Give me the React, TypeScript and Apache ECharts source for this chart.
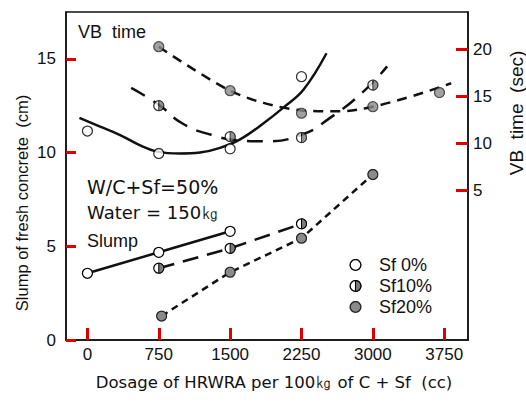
import React, { useEffect, useRef } from "react";
import * as echarts from "echarts";

const xTicks = [0, 750, 1500, 2250, 3000, 3750];
const cmTicks = [0, 5, 10, 15];
const secTicks = [5, 10, 15, 20];

const seriesNames = ["Sf 0%", "Sf10%", "Sf20%"];

// Slump (cm), left axis
const slumpSf0 = [[0, 3.56], [750, 4.68], [1500, 5.8]];
const slumpSf10 = [[750, 3.83], [1500, 4.89], [2250, 6.2]];
const slumpSf20 = [[780, 1.28], [1500, 3.62], [2250, 5.43], [3000, 8.83]];

// VB time (sec), right axis - measured points
const vbSf0 = [[0, 11.3], [750, 8.9], [1500, 9.4], [2250, 17.1]];
const vbSf10 = [[750, 14.0], [1500, 10.7], [2250, 10.6], [3000, 16.2]];
const vbSf20 = [[750, 20.3], [1500, 15.6], [2250, 13.2], [3000, 13.9], [3700, 15.4]];

// VB time fitted curves
const vbCurveSf0 = [[-84, 12.7], [127, 11.8], [338, 10.9], [549, 9.8], [739, 9.1], [971, 8.9], [1183, 9.0], [1394, 9.5], [1605, 10.4], [1848, 12.1], [2059, 13.8], [2270, 15.7], [2513, 19.6]];
const vbCurveSf10 = [[460, 15.9], [750, 14.1], [1000, 12.1], [1300, 10.9], [1600, 10.3], [1850, 10.2], [2250, 10.9], [2550, 12.7], [2900, 15.5], [3150, 18.2]];
const vbCurveSf20 = [[750, 20.3], [1050, 18.3], [1500, 15.6], [1850, 14.3], [2250, 13.5], [2660, 13.4], [3823, 16.4]];

const X_MIN = -225;
const X_MAX = 4000;

const svgUri = (s: string) => "image://data:image/svg+xml;charset=utf-8," + encodeURIComponent(s);
const halfSym = svgUri(
  "<svg xmlns='http://www.w3.org/2000/svg' width='24' height='24' viewBox='0 0 24 24'><circle cx='12' cy='12' r='10' fill='white' stroke='black' stroke-width='2.5'/><path d='M12 2 A10 10 0 0 1 12 22 Z' fill='#7a7a7a' stroke='black' stroke-width='2'/></svg>"
);
const fullSym = svgUri(
  "<svg xmlns='http://www.w3.org/2000/svg' width='24' height='24' viewBox='0 0 24 24'><circle cx='12' cy='12' r='10' fill='#8a8a8a' stroke='#222' stroke-width='2.5'/></svg>"
);
const openSym = svgUri(
  "<svg xmlns='http://www.w3.org/2000/svg' width='24' height='24' viewBox='0 0 24 24'><circle cx='12' cy='12' r='10' fill='white' stroke='black' stroke-width='2.5'/></svg>"
);

const FONT = "Liberation Sans";
const WIDE = "DejaVu Sans";

export default function App() {
  const ref = useRef<HTMLDivElement>(null);
  useEffect(() => {
    if (!ref.current) return;
    const chart = echarts.init(ref.current, null, { renderer: "svg" });
    const syms = [openSym, halfSym, fullSym];
    const lineBase = (name: string, data: number[][], yIdx: number, type: any, sym: string | null, smooth: any) => ({
      name,
      type: "line",
      data,
      yAxisIndex: yIdx,
      smooth,
      showSymbol: !!sym,
      symbol: sym || "none",
      symbolSize: 12,
      lineStyle: { color: "#111", width: 2.5, type },
      itemStyle: { color: "#111" },
      z: 3,
    });
    const scatter = (name: string, data: number[][], sym: string) => ({
      name,
      type: "scatter",
      data,
      yAxisIndex: 1,
      symbol: sym,
      symbolSize: 12,
      z: 5,
    });
    const fmt = (v: number) => String(v);
    const tickStyle = { color: "#e00000", width: 3 };
    chart.setOption({
      animation: false,
      textStyle: { fontFamily: FONT, color: "#111" },
      grid: { left: 66, right: 58, top: 12, bottom: 65, show: true, borderColor: "#111", borderWidth: 1.5 },
      legend: {
        left: 344,
        top: 251,
        orient: "vertical",
        itemWidth: 13,
        itemHeight: 13,
        itemGap: 3,
        textStyle: { fontSize: 18, color: "#111", fontFamily: FONT, padding: [0, 0, 0, 12] },
        data: seriesNames.map((n, i) => ({ name: n, icon: syms[i] })),
      },
      xAxis: {
        type: "value",
        min: X_MIN,
        max: X_MAX,
        axisLine: { show: true, onZero: false, lineStyle: { color: "#111", width: 1.5 } },
        axisTick: { show: true, inside: true, length: 12, customValues: xTicks, lineStyle: tickStyle },
        axisLabel: { customValues: xTicks, formatter: fmt, fontSize: 17, color: "#111", margin: 6, fontFamily: FONT },
        splitLine: { show: false },
      },
      yAxis: [
        {
          type: "value",
          min: 0,
          max: 17.5,
          position: "left",
          axisLine: { show: true, onZero: false, lineStyle: { color: "#111", width: 1.5 } },
          axisTick: { show: true, inside: true, length: 10, customValues: cmTicks, lineStyle: tickStyle },
          axisLabel: { customValues: cmTicks, formatter: fmt, fontSize: 17, color: "#111", margin: 10, fontFamily: FONT },
          splitLine: { show: false },
        },
        {
          type: "value",
          min: -11,
          max: 24,
          position: "right",
          axisLine: { show: true, onZero: false, lineStyle: { color: "#111", width: 1.5 } },
          axisTick: { show: true, inside: true, length: 12, customValues: secTicks, lineStyle: tickStyle },
          axisLabel: { customValues: secTicks, formatter: fmt, fontSize: 17, color: "#111", margin: 5, fontFamily: FONT },
          splitLine: { show: false },
        },
      ],
      graphic: [
        { type: "text", left: 78, top: 23, style: { text: "VB  time", fontSize: 18, fill: "#111", fontFamily: FONT } },
        { type: "text", left: 87, top: 177, style: { text: "W/C+Sf=50%", fontSize: 19, fill: "#111", fontFamily: WIDE } },
        { type: "text", left: 87, top: 203, style: { text: "Water = 150㎏", fontSize: 18, fill: "#111", fontFamily: WIDE } },
        { type: "text", left: 87, top: 232, style: { text: "Slump", fontSize: 18, fill: "#111", fontFamily: FONT } },
        {
          type: "text",
          x: 22,
          y: 203,
          rotation: Math.PI / 2,
          style: { text: "Slump of fresh concrete  (cm)", fontSize: 16.5, fill: "#111", fontFamily: FONT, align: "center", verticalAlign: "middle" },
        },
        {
          type: "text",
          x: 516,
          y: 113,
          rotation: Math.PI / 2,
          style: { text: "VB  time  (sec)", fontSize: 19, fill: "#111", fontFamily: FONT, align: "center", verticalAlign: "middle" },
        },
        {
          type: "text",
          x: 274,
          y: 382,
          style: { text: "Dosage of HRWRA per 100㎏ of C + Sf  (cc)", fontSize: 16.5, fill: "#111", fontFamily: WIDE, align: "center", verticalAlign: "middle" },
        },
      ],
      series: [
        lineBase(seriesNames[0], slumpSf0, 0, "solid", openSym, false),
        lineBase(seriesNames[1], slumpSf10, 0, [16, 9], halfSym, false),
        lineBase(seriesNames[2], slumpSf20, 0, [7, 5], fullSym, false),
        lineBase("vb0", vbCurveSf0, 1, "solid", null, 0.4),
        lineBase("vb10", vbCurveSf10, 1, [16, 10], null, true),
        lineBase("vb20", vbCurveSf20, 1, [10, 7], null, 0.3),
        scatter(seriesNames[0], vbSf0, openSym),
        scatter(seriesNames[1], vbSf10, halfSym),
        scatter(seriesNames[2], vbSf20, fullSym),
      ],
    });
    return () => chart.dispose();
  }, []);
  return <div ref={ref} style={{ width: 526, height: 405, position: "absolute", left: 0, top: 0 }} />;
}
